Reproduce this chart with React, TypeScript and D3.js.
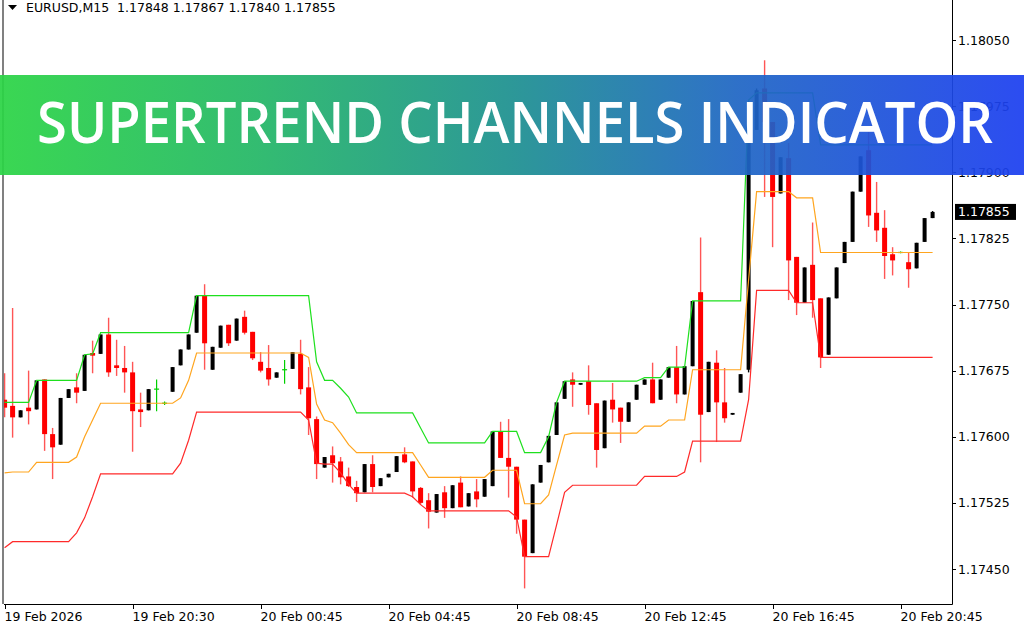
import React from "react";
import * as d3 from "d3";

// ---- Data (EURUSD M15) ----
const OPEN = [1.17642,1.17635,1.17622,1.17633,1.17631,1.17665,1.17603,1.17591,1.17644,1.17656,1.17652,1.17695,1.17694,1.17716,1.17681,1.17678,1.17673,1.17631,1.17630,1.17654,1.17638,1.17651,1.17681,1.17699,1.17718,1.17760,1.17676,1.17701,1.17727,1.17709,1.17736,1.17719,1.17685,1.17678,1.17667,1.17676,1.17677,1.17694,1.17656,1.17620,1.17565,1.17579,1.17572,1.17555,1.17543,1.17537,1.17569,1.17544,1.17554,1.17560,1.17580,1.17572,1.17542,1.17528,1.17514,1.17537,1.17519,1.17548,1.17521,1.17538,1.17532,1.17544,1.17606,1.17576,1.17566,1.17506,1.17468,1.17548,1.17571,1.17602,1.17643,1.17665,1.17659,1.17663,1.17638,1.17587,1.17642,1.17633,1.17617,1.17642,1.17659,1.17665,1.17642,1.17667,1.17679,1.17648,1.17680,1.17764,1.17628,1.17684,1.17639,1.17625,1.17650,1.17676,1.17948,1.17995,1.17957,1.17876,1.17916,1.17804,1.17752,1.17795,1.17757,1.17693,1.17757,1.17797,1.17821,1.17878,1.17925,1.17854,1.17837,1.17807,1.17809,1.17798,1.17791,1.17821,1.17848];
const HIGH = [1.17672,1.17746,1.17630,1.17675,1.17664,1.17665,1.17610,1.17644,1.17654,1.17672,1.17693,1.17709,1.17716,1.17735,1.17710,1.17703,1.17685,1.17650,1.17654,1.17665,1.17640,1.17679,1.17699,1.17716,1.17760,1.17773,1.17702,1.17726,1.17727,1.17734,1.17743,1.17719,1.17696,1.17704,1.17673,1.17687,1.17696,1.17710,1.17679,1.17623,1.17577,1.17589,1.17577,1.17565,1.17550,1.17569,1.17579,1.17553,1.17558,1.17578,1.17588,1.17572,1.17543,1.17536,1.17535,1.17544,1.17545,1.17555,1.17536,1.17552,1.17552,1.17606,1.17617,1.17620,1.17566,1.17506,1.17546,1.17568,1.17601,1.17639,1.17663,1.17673,1.17661,1.17681,1.17638,1.17641,1.17661,1.17633,1.17639,1.17659,1.17665,1.17684,1.17665,1.17679,1.17703,1.17680,1.17754,1.17826,1.17685,1.17698,1.17678,1.17627,1.17671,1.17953,1.17995,1.18027,1.17957,1.17917,1.17933,1.17804,1.17792,1.17843,1.17757,1.17758,1.17792,1.17821,1.17878,1.17918,1.17946,1.17889,1.17857,1.17815,1.17810,1.17809,1.17820,1.17848,1.17856];
const LOW = [1.17622,1.17599,1.17622,1.17614,1.17631,1.17584,1.17552,1.17591,1.17644,1.17638,1.17652,1.17672,1.17694,1.17668,1.17669,1.17650,1.17583,1.17611,1.17630,1.17629,1.17636,1.17651,1.17681,1.17699,1.17718,1.17676,1.17676,1.17701,1.17703,1.17709,1.17716,1.17687,1.17673,1.17658,1.17667,1.17660,1.17677,1.17648,1.17602,1.17552,1.17565,1.17548,1.17546,1.17543,1.17526,1.17537,1.17537,1.17544,1.17554,1.17560,1.17570,1.17531,1.17523,1.17496,1.17514,1.17508,1.17519,1.17520,1.17521,1.17520,1.17532,1.17544,1.17576,1.17531,1.17490,1.17428,1.17468,1.17548,1.17571,1.17602,1.17643,1.17634,1.17659,1.17625,1.17565,1.17587,1.17616,1.17593,1.17617,1.17642,1.17659,1.17638,1.17642,1.17667,1.17638,1.17648,1.17680,1.17571,1.17628,1.17594,1.17616,1.17625,1.17650,1.17673,1.17948,1.17872,1.17815,1.17876,1.17755,1.17738,1.17752,1.17735,1.17678,1.17693,1.17757,1.17797,1.17821,1.17878,1.17838,1.17821,1.17779,1.17783,1.17808,1.17769,1.17791,1.17821,1.17848];
const CLOSE = [1.17633,1.17622,1.17630,1.17629,1.17664,1.17603,1.17588,1.17644,1.17654,1.17650,1.17693,1.17692,1.17716,1.17673,1.17678,1.17673,1.17629,1.17628,1.17654,1.17654,1.17638,1.17679,1.17699,1.17716,1.17760,1.17706,1.17702,1.17726,1.17706,1.17734,1.17718,1.17689,1.17675,1.17665,1.17673,1.17676,1.17696,1.17654,1.17621,1.17569,1.17577,1.17570,1.17554,1.17544,1.17536,1.17569,1.17543,1.17553,1.17558,1.17578,1.17571,1.17538,1.17525,1.17515,1.17535,1.17519,1.17545,1.17520,1.17536,1.17529,1.17552,1.17606,1.17576,1.17566,1.17506,1.17464,1.17546,1.17568,1.17601,1.17639,1.17663,1.17659,1.17661,1.17636,1.17585,1.17641,1.17631,1.17617,1.17639,1.17659,1.17665,1.17638,1.17665,1.17679,1.17648,1.17680,1.17754,1.17625,1.17685,1.17639,1.17621,1.17627,1.17671,1.17948,1.17993,1.17957,1.17872,1.17917,1.17800,1.17752,1.17792,1.17755,1.17690,1.17758,1.17792,1.17821,1.17878,1.17918,1.17851,1.17834,1.17805,1.17800,1.17809,1.17790,1.17820,1.17848,1.17855];
// OHLC reported in the chart header for the last bar
const LAST_BAR = [1.17848, 1.17867, 1.1784, 1.17855];

// Supertrend channel lines
const UPPER = [1.17639,1.17639,1.17639,1.17639,1.17664,1.17664,1.17664,1.17664,1.17664,1.17664,1.17693,1.17694,1.17718,1.17718,1.17718,1.17718,1.17718,1.17718,1.17718,1.17718,1.17718,1.17718,1.17718,1.17718,1.17760,1.17760,1.17760,1.17760,1.17760,1.17760,1.17760,1.17760,1.17760,1.17760,1.17760,1.17760,1.17760,1.17760,1.17760,1.17685,1.17664,1.17664,1.17655,1.17645,1.17627,1.17627,1.17627,1.17627,1.17627,1.17627,1.17627,1.17627,1.17610,1.17593,1.17593,1.17593,1.17593,1.17593,1.17593,1.17593,1.17593,1.17606,1.17606,1.17606,1.17606,1.17582,1.17582,1.17582,1.17600,1.17639,1.17663,1.17663,1.17663,1.17663,1.17663,1.17663,1.17663,1.17663,1.17663,1.17663,1.17667,1.17667,1.17667,1.17679,1.17679,1.17679,1.17754,1.17754,1.17754,1.17754,1.17754,1.17754,1.17754,1.17982,1.17990,1.17990,1.17990,1.17990,1.17990,1.17990,1.17990,1.17990,1.17931,1.17931,1.17931,1.17931,1.17931,1.17931,1.17931,1.17931,1.17931,1.17931,1.17931,1.17931,1.17931,1.17931,1.17931];
const MIDDLE = [1.17559,1.17560,1.17560,1.17560,1.17571,1.17571,1.17571,1.17571,1.17571,1.17577,1.17600,1.17619,1.17638,1.17638,1.17638,1.17638,1.17638,1.17638,1.17638,1.17638,1.17638,1.17638,1.17644,1.17664,1.17695,1.17695,1.17695,1.17695,1.17695,1.17695,1.17695,1.17695,1.17695,1.17695,1.17695,1.17695,1.17695,1.17695,1.17690,1.17637,1.17619,1.17616,1.17604,1.17591,1.17582,1.17582,1.17582,1.17582,1.17582,1.17582,1.17582,1.17582,1.17568,1.17554,1.17554,1.17554,1.17554,1.17554,1.17554,1.17554,1.17554,1.17562,1.17562,1.17562,1.17562,1.17524,1.17524,1.17524,1.17534,1.17568,1.17602,1.17604,1.17604,1.17604,1.17604,1.17604,1.17604,1.17604,1.17604,1.17604,1.17612,1.17612,1.17612,1.17619,1.17619,1.17619,1.17676,1.17676,1.17676,1.17676,1.17676,1.17676,1.17676,1.17778,1.17878,1.17878,1.17878,1.17878,1.17878,1.17871,1.17871,1.17871,1.17809,1.17809,1.17809,1.17809,1.17809,1.17809,1.17809,1.17809,1.17809,1.17809,1.17809,1.17809,1.17809,1.17809,1.17809];
const LOWER = [1.17474,1.17481,1.17481,1.17481,1.17481,1.17481,1.17481,1.17481,1.17481,1.17491,1.17508,1.17532,1.17558,1.17558,1.17558,1.17558,1.17558,1.17558,1.17558,1.17558,1.17558,1.17558,1.17570,1.17596,1.17628,1.17628,1.17628,1.17628,1.17628,1.17628,1.17628,1.17628,1.17628,1.17628,1.17628,1.17628,1.17628,1.17628,1.17619,1.17570,1.17569,1.17569,1.17559,1.17546,1.17536,1.17536,1.17536,1.17536,1.17536,1.17536,1.17536,1.17532,1.17523,1.17516,1.17516,1.17516,1.17516,1.17516,1.17516,1.17516,1.17516,1.17516,1.17516,1.17516,1.17509,1.17464,1.17464,1.17464,1.17464,1.17500,1.17537,1.17545,1.17545,1.17545,1.17545,1.17545,1.17545,1.17545,1.17545,1.17545,1.17555,1.17555,1.17555,1.17555,1.17555,1.17560,1.17595,1.17595,1.17595,1.17595,1.17595,1.17595,1.17595,1.17642,1.17766,1.17766,1.17766,1.17766,1.17766,1.17752,1.17752,1.17752,1.17690,1.17690,1.17690,1.17690,1.17690,1.17690,1.17690,1.17690,1.17690,1.17690,1.17690,1.17690,1.17690,1.17690,1.17690];

const PRICE_TICKS = [1.1805, 1.17975, 1.179, 1.17825, 1.1775, 1.17675, 1.176, 1.17525, 1.1745];
const TIME_TICK_BARS = [0, 16, 32, 48, 64, 80, 96, 112];
const TIME_TICK_LABELS = ["19 Feb 2026", "19 Feb 20:30", "20 Feb 00:45", "20 Feb 04:45", "20 Feb 08:45", "20 Feb 12:45", "20 Feb 16:45", "20 Feb 20:45"];
const SYMBOL = "EURUSD,M15";
const TITLE = "SUPERTREND CHANNELS INDICATOR";

const FONT = "'DejaVu Sans', Verdana, sans-serif";

export default function App() {
  const W = 1024, H = 640;
  const plotL = 4, plotR = 952, plotB = 604;
  const n = CLOSE.length;
  const x = d3.scaleLinear().domain([0, n - 1]).range([4.6, 4.6 + 8 * (n - 1)]);
  const y = d3.scaleLinear().domain([1.1745, 1.1805]).range([569, 40]);
  const line = d3.line<number>().x((_, i) => x(i)).y((d) => y(d));
  const last = CLOSE[n - 1];
  const fmt = d3.format(".5f");

  return (
    <svg width={W} height={H} style={{ display: "block", position: "absolute", left: 0, top: 0, background: "#fff" }}>
      <defs>
        <clipPath id="plot">
          <rect x={plotL} y={0} width={plotR - plotL} height={plotB} />
        </clipPath>
        <linearGradient id="banner" x1="0" x2="1" y1="0" y2="0">
          <stop offset="0" stopColor="#2bd445" />
          <stop offset="0.25" stopColor="#24b766" />
          <stop offset="0.5" stopColor="#1d9090" />
          <stop offset="0.72" stopColor="#1f66c4" />
          <stop offset="1" stopColor="#1c3ff0" />
        </linearGradient>
      </defs>
      <rect x={0} y={0} width={W} height={H} fill="#fff" />

      <g clipPath="url(#plot)">
        {CLOSE.map((c, i) => {
          const o = OPEN[i], h = HIGH[i], l = LOW[i];
          const cx = x(i);
          if (c === o) {
            return (
              <g key={i} stroke="#00d000" strokeWidth={1.2}>
                <line x1={cx} x2={cx} y1={y(h)} y2={y(l)} />
                <line x1={cx - 2.5} x2={cx + 2.5} y1={y(c)} y2={y(c)} />
              </g>
            );
          }
          const bull = c > o;
          const top = y(Math.max(o, c)), bot = y(Math.min(o, c));
          const bh = Math.max(1.5, bot - top);
          return (
            <g key={i}>
              <line x1={cx} x2={cx} y1={y(h)} y2={y(l)} stroke={bull ? "#000" : "#ff5555"} strokeWidth={1.4} />
              <rect x={bull ? cx - 2 : cx - 2.5} y={top} width={bull ? 4 : 5} height={bh} fill={bull ? "#000" : "#ff0000"} />
            </g>
          );
        })}
        <path d={line(LOWER) || ""} fill="none" stroke="#ff2a2a" strokeWidth={1.2} />
        <path d={line(MIDDLE) || ""} fill="none" stroke="#ffa51f" strokeWidth={1.2} />
        <path d={line(UPPER) || ""} fill="none" stroke="#1ee01e" strokeWidth={1.2} />
      </g>

      {/* frame */}
      <rect x={2} y={0} width={2} height={plotB} fill="#808080" />
      <line x1={plotR + 0.5} x2={plotR + 0.5} y1={0} y2={plotB + 0.5} stroke="#000" />
      <line x1={plotL} x2={plotR + 0.5} y1={plotB + 0.5} y2={plotB + 0.5} stroke="#000" />

      {/* price axis */}
      {PRICE_TICKS.map((p) => (
        <g key={p}>
          <line x1={plotR} x2={plotR + 4} y1={Math.round(y(p)) + 0.5} y2={Math.round(y(p)) + 0.5} stroke="#000" />
          <text x={plotR + 6} y={y(p)} dy="0.36em" fontFamily={FONT} fontSize={12.5} fill="#000">{fmt(p)}</text>
        </g>
      ))}
      <rect x={plotR + 3} y={y(last) - 8} width={61} height={16} fill="#000" />
      <text x={plotR + 6} y={y(last)} dy="0.36em" fontFamily={FONT} fontSize={12.5} fill="#fff">{fmt(last)}</text>

      {/* time axis */}
      {TIME_TICK_BARS.map((b, k) => (
        <g key={b}>
          <line x1={Math.round(x(b)) + 0.5} x2={Math.round(x(b)) + 0.5} y1={plotB} y2={plotB + 5} stroke="#000" />
          <text x={x(b)} y={621} fontFamily={FONT} fontSize={12.5} fill="#000">{TIME_TICK_LABELS[k]}</text>
        </g>
      ))}

      {/* header */}
      <polygon points="8,5 17,5 12.5,10" fill="#000" />
      <text x={26} y={12} fontFamily={FONT} fontSize={12.5} fill="#000" style={{ whiteSpace: "pre" }}>
        {`${SYMBOL}  ${LAST_BAR.map((v) => fmt(v)).join(" ")}`}
      </text>

      {/* banner */}
      <rect x={0} y={75} width={W} height={100} fill="url(#banner)" opacity={0.93} />
      <text x={515} y={143} textAnchor="middle" fontFamily="'Open Sans', sans-serif" fontWeight={600} fontSize={58} fill="#fff" textLength={956} lengthAdjust="spacingAndGlyphs">{TITLE}</text>
    </svg>
  );
}
